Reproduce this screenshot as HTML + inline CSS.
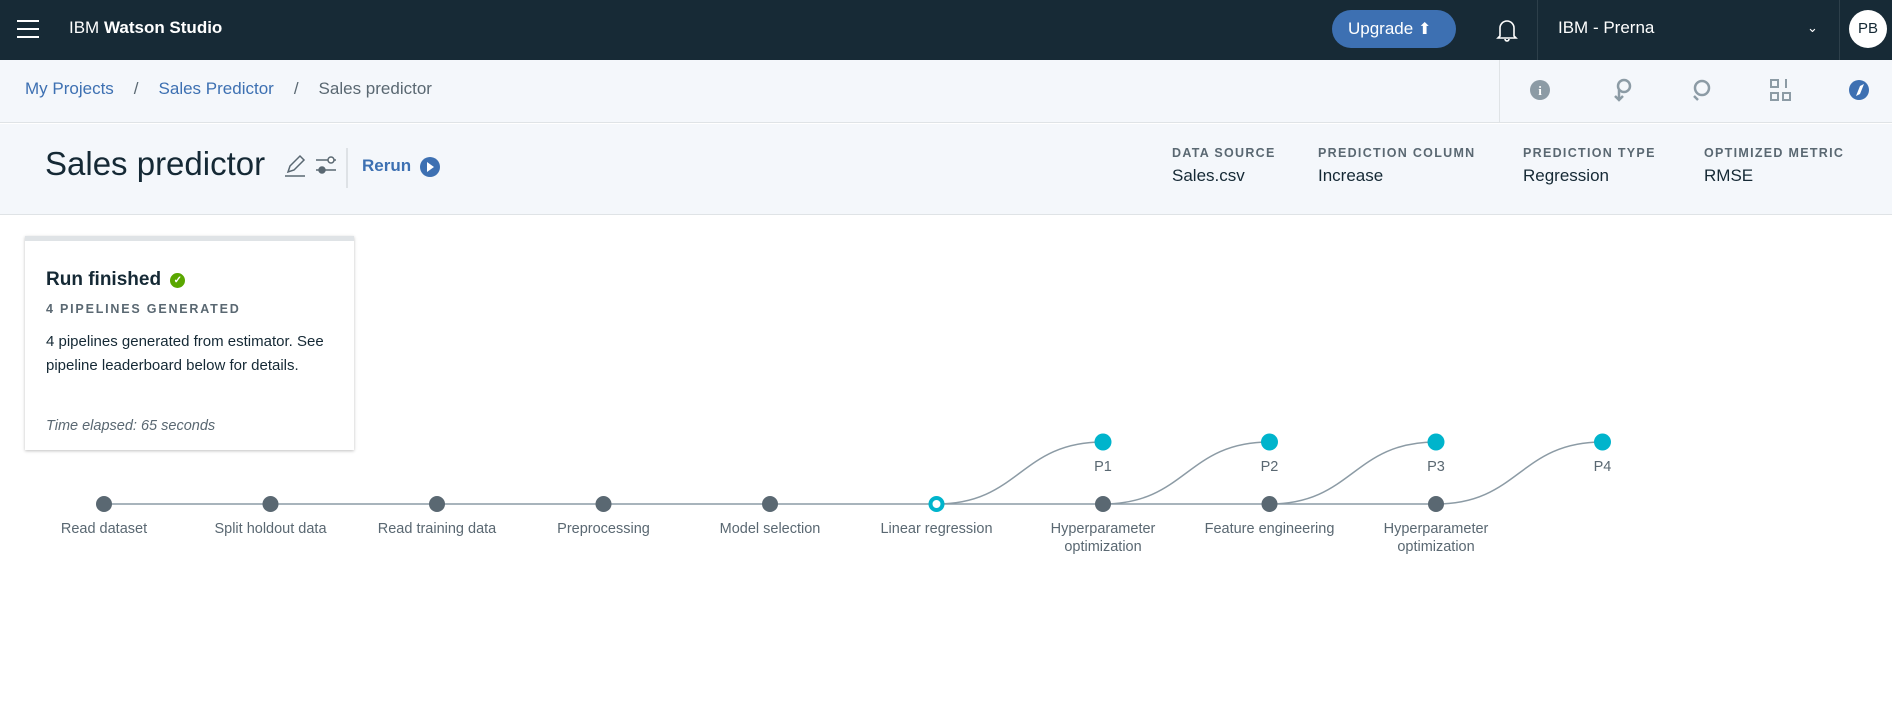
<!DOCTYPE html>
<html><head><meta charset="utf-8">
<style>
*{box-sizing:border-box;margin:0;padding:0}
body{width:1892px;height:725px;overflow:hidden;background:#fff;font-family:"Liberation Sans",sans-serif;position:relative;color:#152935}
.abs{position:absolute}
#top{left:0;top:0;width:1892px;height:60px;background:#172a36}
#crumb{left:0;top:60px;width:1892px;height:63px;background:#f4f7fb;border-bottom:1px solid #dfe3e6}
#head{left:0;top:124px;width:1892px;height:91px;background:#f4f7fb;border-bottom:1px solid #dfe3e6}
.lbl{font-size:12.5px;font-weight:bold;letter-spacing:1.3px;color:#5a6872;top:146px}
.val{font-size:17px;color:#152935;top:166px}
</style></head><body>
<div id="top" class="abs">
 <div class="abs" style="left:17px;top:20px;width:22px;height:18px">
  <div style="height:2px;background:#fff;margin-bottom:6px"></div><div style="height:2px;background:#fff;margin-bottom:6px"></div><div style="height:2px;background:#fff"></div></div>
 <div class="abs" style="left:69px;top:18px;color:#fff;font-size:17px">IBM <b>Watson Studio</b></div>
 <div class="abs" style="left:1332px;top:10px;width:124px;height:38px;border-radius:19px;background:#3d70b2;color:#fff;font-size:17px;line-height:38px;padding-left:16px">Upgrade <span style="font-size:16px">&#11014;</span></div>
 <svg class="abs" style="left:1496px;top:17px" width="22" height="26" viewBox="0 0 22 26"><path d="M4 19V11a7 7 0 0 1 14 0v8l2 2H2z M9 22a2 2 0 0 0 4 0" fill="none" stroke="#fff" stroke-width="1.6"/></svg>
 <div class="abs" style="left:1537px;top:0;width:1px;height:60px;background:#2d3f4a"></div>
 <div class="abs" style="left:1558px;top:18px;color:#fff;font-size:17px">IBM - Prerna</div>
 <div class="abs" style="left:1807px;top:20px;color:#fff;font-size:13px">&#8964;</div>
 <div class="abs" style="left:1839px;top:0;width:1px;height:60px;background:#2d3f4a"></div>
 <div class="abs" style="left:1849px;top:10px;width:38px;height:38px;border-radius:50%;background:#fff;color:#152935;font-size:15px;text-align:center;line-height:38px">PB</div>
</div>
<div id="crumb" class="abs">
 <div class="abs" style="left:25px;top:19px;font-size:17px;color:#5a6872;white-space:nowrap">
  <span style="color:#3d70b2">My Projects</span><span style="margin:0 20px">/</span><span style="color:#3d70b2">Sales Predictor</span><span style="margin:0 20px">/</span><span>Sales predictor</span></div>
 <div class="abs" style="left:1499px;top:0;width:1px;height:63px;background:#dfe3e6"></div>
 <svg class="abs" style="left:0;top:0" width="1892" height="63">
  <g><circle cx="1540" cy="30" r="10" fill="#8c9ba5"/><text x="1540" y="35" font-size="13" font-weight="bold" fill="#fff" text-anchor="middle" font-family="Liberation Serif">i</text></g>
  <g fill="none" stroke="#8c9ba5" stroke-width="2.5"><circle cx="1624" cy="26" r="6"/><path d="M1619 30v10m-4-4l4 4 4-4"/></g>
  <g fill="none" stroke="#8c9ba5" stroke-width="2.5"><circle cx="1702" cy="28" r="7"/><path d="M1694 36l4 4"/></g>
  <g fill="none" stroke="#8c9ba5" stroke-width="2"><rect x="1771" y="20" width="7" height="7"/><rect x="1783" y="33" width="7" height="7"/><rect x="1771" y="33" width="7" height="7"/><path d="M1786 19v9"/></g>
  <g><circle cx="1859" cy="30" r="10" fill="#3d70b2"/><path d="M1864 24l-4 10-4 2 4-10z" fill="#fff"/></g>
 </svg>
</div>
<div id="head" class="abs">
 <div class="abs" style="left:45px;top:21px;font-size:33px;font-weight:300;color:#152935">Sales predictor</div>
 <svg class="abs" style="left:0;top:0" width="500" height="90">
  <g fill="none" stroke="#5a6872" stroke-width="1.5"><path d="M288 48l2-6 10-10 4 4-10 10z"/><path d="M285 52h20"/></g>
  <g stroke="#5a6872" stroke-width="1.5" fill="#fff"><path d="M316 36h20M316 46h20"/><circle cx="331" cy="36" r="3"/><circle cx="322" cy="46" r="3" fill="#5a6872"/></g>
  <line x1="347" y1="24" x2="347" y2="64" stroke="#c7cdd2"/>
  <g><circle cx="430" cy="43" r="10" fill="#3d70b2"/><path d="M427 38l7 5-7 5z" fill="#fff"/></g>
 </svg>
 <div class="abs" style="left:362px;top:32px;font-size:17px;font-weight:bold;color:#3d70b2">Rerun</div>
</div>
<div class="abs lbl" style="left:1172px">DATA SOURCE</div>
<div class="abs val" style="left:1172px">Sales.csv</div>
<div class="abs lbl" style="left:1318px">PREDICTION COLUMN</div>
<div class="abs val" style="left:1318px">Increase</div>
<div class="abs lbl" style="left:1523px">PREDICTION TYPE</div>
<div class="abs val" style="left:1523px">Regression</div>
<div class="abs lbl" style="left:1704px">OPTIMIZED METRIC</div>
<div class="abs val" style="left:1704px">RMSE</div>

<div class="abs" style="left:25px;top:236px;width:329px;height:214px;background:#fff;border-top:5px solid #dfe3e6;box-shadow:0 1px 3px rgba(0,0,0,.25)">
 <div class="abs" style="left:21px;top:28px;font-size:19px;font-weight:bold;color:#152935">Run finished <span style="display:inline-block;width:15px;height:15px;border-radius:50%;background:#5aa700;color:#fff;font-size:10px;text-align:center;line-height:15px;vertical-align:2px;margin-left:4px">&#10003;</span></div>
 <div class="abs" style="left:21px;top:61px;font-size:12.5px;font-weight:bold;letter-spacing:1.8px;color:#5a6872">4 PIPELINES GENERATED</div>
 <div class="abs" style="left:21px;top:89px;width:300px;font-size:15px;line-height:24px;color:#152935">4 pipelines generated from estimator. See pipeline leaderboard below for details.</div>
 <div class="abs" style="left:21px;top:177px;font-size:14.5px;font-style:italic;color:#5a6872">Time elapsed: 65 seconds</div>
</div>

<svg id="pipe" class="abs" style="left:0;top:0" width="1892" height="725"></svg>
<script>
const stepLabels=[["Read dataset"],["Split holdout data"],["Read training data"],["Preprocessing"],["Model selection"],["Linear regression"],["Hyperparameter","optimization"],["Feature engineering"],["Hyperparameter","optimization"]];
const pipelineNames=["P1","P2","P3","P4"];
const pipelineSource=[5,6,7,8];
const activeStep=5;
const NS="http://www.w3.org/2000/svg";
const svg=document.getElementById('pipe');
const x0=104,dx=166.5,yMain=504,yP=442;
const xs=i=>x0+i*dx;
function mk(t,a){const e=document.createElementNS(NS,t);for(const k in a)e.setAttribute(k,a[k]);svg.appendChild(e);return e;}
const ml=mk('line',{x1:xs(0),y1:yMain,x2:xs(stepLabels.length-1),y2:yMain,stroke:'#8c9ba5','stroke-width':1.5});


pipelineSource.forEach((s,i)=>{
 const a=xs(s),b=xs(s+1),m=(a+b)/2;
 const p=mk('path',{d:`M${a} ${yMain}C${m} ${yMain} ${m} ${yP} ${b} ${yP}`,fill:'none',stroke:'#8c9ba5','stroke-width':1.5});
 
 
});
stepLabels.forEach((lab,i)=>{
 const act=i===activeStep;
 const c=mk('circle',{cx:xs(i),cy:yMain,r:act?6:8,fill:act?'#fff':'#5a6872',stroke:act?'#00b4cc':'none','stroke-width':act?4:0});
 
 
 lab.forEach((ln,j)=>{
  const t=mk('text',{x:xs(i),y:533+j*18,'text-anchor':'middle','font-size':14.5,fill:'#5a6872','font-family':'Liberation Sans, sans-serif'});
  t.textContent=ln;
  
  
 });
});
pipelineNames.forEach((n,i)=>{
 const x=xs(pipelineSource[i]+1);
 const c=mk('circle',{cx:x,cy:yP,r:8.5,fill:'#00b4cc'});
 
 
 const t=mk('text',{x:x,y:471,'text-anchor':'middle','font-size':14.5,fill:'#5a6872','font-family':'Liberation Sans, sans-serif'});
 t.textContent=n;
 
 
});
</script>
</body></html>
